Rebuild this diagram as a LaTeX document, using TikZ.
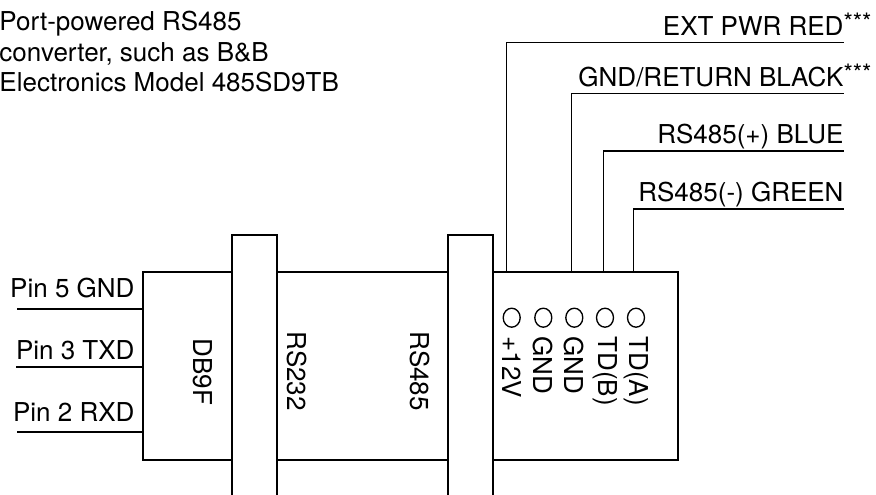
\documentclass[tikz,border=0pt]{standalone}
\usepackage{fontspec}
\setmainfont{TeX Gyre Heros}

\tikzset{every picture/.style={line width=0.75pt}}
\tikzset{
  boxline/.style={line width=1.5pt},
  wire/.style={line width=1pt},
  lbl/.style={inner sep=0pt, font=\fontsize{19.5}{23}\selectfont},
  pinlbl/.style={lbl, rotate=-90, anchor=west},
}
\newcommand{\tristar}{\rlap{\raisebox{3.5pt}{\fontsize{18}{18}\selectfont ***}}}

\begin{document}
\begin{tikzpicture}[x=0.75pt,y=0.75pt,yscale=-1,xscale=1]
\useasboundingbox (0,0) rectangle (876,494);
\clip (0,0) rectangle (876,494);

% Text Node
\node[lbl, anchor=base west] (title1) at (-1,30) {Port-powered RS485};
% Text Node
\node[lbl, anchor=base west] (title2) at (-1,61.7) {converter, such as B\&B};
% Text Node
\node[lbl, anchor=base west] (title3) at (-1,91.7) {Electronics Model 485SD9TB};

%Rect: converter body
\draw[boxline] (143,271.7) rectangle (678.3,459.5);
%Rect: RS232 band
\draw[boxline, fill=white] (231.7,235.3) rectangle (276.7,520);
%Rect: RS485 band
\draw[boxline, fill=white] (448.3,235.3) rectangle (493.3,520);

% Text Node
\node[lbl, rotate=-90] (db9) at (203,372) {DB9F};
% Text Node
\node[lbl, rotate=-90] (rs232) at (296.5,371) {RS232};
% Text Node
\node[lbl, rotate=-90] (rs485) at (420,371) {RS485};

%Straight Lines: DB9 pins
\coordinate (gndA) at (17,309);
\coordinate (gndB) at (143,309);
\draw[wire, line width=1.3pt] (gndA) -- (gndB);
\coordinate (txdA) at (16,366.7);
\coordinate (txdB) at (143,366.7);
\draw[wire, line width=1.3pt] (txdA) -- (txdB);
\coordinate (rxdA) at (17,432);
\coordinate (rxdB) at (143,432);
\draw[wire, line width=1.3pt] (rxdA) -- (rxdB);

% Text Node
\node[lbl, anchor=base east] (gndLbl) at (135,297) {Pin 5 GND};
% Text Node
\node[lbl, anchor=base east] (txdLbl) at (135,359) {Pin 3 TXD};
% Text Node
\node[lbl, anchor=base east] (rxdLbl) at (135,421.7) {Pin 2 RXD};

%Terminals
\draw[wire] (511.7,317.7) ellipse (8.5 and 9.5);
\draw[wire] (543.3,317.7) ellipse (8.5 and 9.5);
\draw[wire] (574.3,317.7) ellipse (8.5 and 9.5);
\draw[wire] (605,317.7) ellipse (8.5 and 9.5);
\draw[wire] (636,317.7) ellipse (8.5 and 9.5);

% Text Node
\node[pinlbl] (t12v) at (511.7,336) {+12V};
% Text Node
\node[pinlbl] (tgnd1) at (543.3,336) {GND};
% Text Node
\node[pinlbl] (tgnd2) at (574.3,336) {GND};
% Text Node
\node[pinlbl] (ttdb) at (605,336) {TD(B)};
% Text Node
\node[pinlbl] (ttda) at (636,336) {TD(A)};

%Straight Lines: wires out
\coordinate (pwrIn) at (506.5,271.7);
\coordinate (pwrEnd) at (844,42.7);
\draw[wire] (pwrIn) |- (pwrEnd);
\coordinate (retIn) at (571.5,271.7);
\coordinate (retEnd) at (844,93.3);
\draw[wire] (retIn) |- (retEnd);
\coordinate (posIn) at (603.5,271.7);
\coordinate (posEnd) at (844,151);
\draw[wire] (posIn) |- (posEnd);
\coordinate (negIn) at (633.5,271.7);
\coordinate (negEnd) at (844,209);
\draw[wire] (negIn) |- (negEnd);

% Text Node
\node[lbl, anchor=base east] (pwrLbl) at (844,35) {EXT PWR RED\tristar};
% Text Node
\node[lbl, anchor=base east] (retLbl) at (844,86) {GND/RETURN BLACK\tristar};
% Text Node
\node[lbl, anchor=base east] (posLbl) at (844,143.3) {RS485(+) BLUE};
% Text Node
\node[lbl, anchor=base east] (negLbl) at (844,201.7) {RS485(-) GREEN};

\end{tikzpicture}
\end{document}
